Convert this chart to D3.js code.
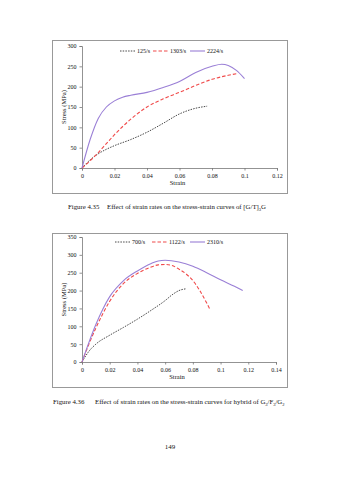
<!DOCTYPE html>
<html><head><meta charset="utf-8">
<script src="https://cdn.jsdelivr.net/npm/d3@7"></script>
<style>body{margin:0;background:#fff}svg{display:block}text{font-family:"Liberation Serif","Times New Roman",serif;fill:#111}</style>
</head><body>
<script>
// Figure 4.35 data
const xTicks1 = [0, 0.02, 0.04, 0.06, 0.08, 0.1, 0.12];
const xTickLabels1 = ["0", "0.02", "0.04", "0.06", "0.08", "0.1", "0.12"];
const yTicks1 = [0, 50, 100, 150, 200, 250, 300];
const series1Names = ["125/s", "1303/s", "2224/s"];
const s125 = [[0,0],[0.005,20],[0.01,35],[0.015,46],[0.02,55],[0.03,70],[0.04,88],[0.05,110],[0.06,133],[0.07,147],[0.077,152]];
const s1303 = [[0,0],[0.005,18],[0.01,38],[0.015,60],[0.02,82],[0.03,120],[0.04,150],[0.05,170],[0.06,186],[0.07,203],[0.08,218],[0.09,228],[0.095,232]];
const s2224 = [[0,0],[0.005,70],[0.01,122],[0.015,150],[0.02,165],[0.025,174],[0.03,179],[0.04,186],[0.05,198],[0.06,213],[0.07,235],[0.08,250],[0.086,255],[0.09,252],[0.095,240],[0.1,220]];
// Figure 4.36 data
const xTicks2 = [0, 0.02, 0.04, 0.06, 0.08, 0.1, 0.12, 0.14];
const xTickLabels2 = ["0", "0.02", "0.04", "0.06", "0.08", "0.1", "0.12", "0.14"];
const yTicks2 = [0, 50, 100, 150, 200, 250, 300, 350];
const series2Names = ["700/s", "1122/s", "2310/s"];
const s700 = [[0,0],[0.005,30],[0.01,50],[0.02,75],[0.03,97],[0.04,120],[0.05,145],[0.06,172],[0.065,188],[0.07,200],[0.075,205]];
const s1122 = [[0,0],[0.005,50],[0.01,95],[0.015,135],[0.02,170],[0.03,220],[0.04,248],[0.05,266],[0.055,272],[0.06,273],[0.065,270],[0.07,260],[0.075,247],[0.08,228],[0.085,200],[0.09,165],[0.092,150]];
const s2310 = [[0,0],[0.005,55],[0.01,105],[0.015,148],[0.02,183],[0.03,228],[0.04,255],[0.05,276],[0.055,283],[0.06,285],[0.07,280],[0.08,268],[0.09,250],[0.1,230],[0.11,212],[0.116,200]];

const styles = [
  {color:"#333", dash:"1.5,1.2", w:0.9},
  {color:"#f04a4a", dash:"3.5,2", w:1.1},
  {color:"#9a7fd6", dash:null, w:1.1}
];

const svg = d3.select("body").append("svg").attr("width",339).attr("height",480);

function chart(cfg){
  const g = svg.append("g");
  g.append("rect").attr("x",cfg.frame[0]+0.5).attr("y",cfg.frame[1]+0.5)
    .attr("width",cfg.frame[2]).attr("height",cfg.frame[3])
    .attr("fill","#fff").attr("stroke","#999").attr("stroke-width",1);
  const x = d3.scaleLinear().domain(cfg.xDom).range(cfg.xRange);
  const y = d3.scaleLinear().domain(cfg.yDom).range(cfg.yRange);
  const xa = g.append("g").attr("transform",`translate(0,${cfg.yRange[0]})`)
    .call(d3.axisBottom(x).tickValues(cfg.xTicks).tickFormat((d,i)=>cfg.xLabels[i]).tickSize(2.5).tickPadding(3));
  const ya = g.append("g").attr("transform",`translate(${cfg.xRange[0]},0)`)
    .call(d3.axisLeft(y).tickValues(cfg.yTicks).tickSize(2.5).tickPadding(3));
  [xa,ya].forEach(a=>{
    a.selectAll("path,line").attr("stroke","#777").attr("stroke-width",0.8);
    a.selectAll("text").attr("font-size",6).attr("font-family","Liberation Serif").attr("fill","#222");
  });
  g.append("text").attr("x",(cfg.xRange[0]+cfg.xRange[1])/2-2).attr("y",cfg.yRange[0]+17)
    .attr("text-anchor","middle").attr("font-size",6.5).text("Strain");
  g.append("text").attr("transform",`translate(${cfg.xRange[0]-16},${(cfg.yRange[0]+cfg.yRange[1])/2}) rotate(-90)`)
    .attr("text-anchor","middle").attr("font-size",6.5).text("Stress (MPa)");
  const line = d3.line().x(d=>x(d[0])).y(d=>y(d[1])).curve(d3.curveMonotoneX);
  cfg.series.forEach((s,i)=>{
    const st = styles[i];
    g.append("path").datum(s).attr("d",line).attr("fill","none")
      .attr("stroke",st.color).attr("stroke-width",st.w).attr("stroke-dasharray",st.dash);
  });
  // legend
  cfg.names.forEach((n,i)=>{
    const lx = cfg.legX[i], ly = cfg.legY, st = styles[i];
    g.append("line").attr("x1",lx).attr("x2",lx+15).attr("y1",ly).attr("y2",ly)
      .attr("stroke",st.color).attr("stroke-width",st.w).attr("stroke-dasharray",st.dash);
    g.append("text").attr("x",lx+17).attr("y",ly+2).attr("font-size",6).attr("fill","#333").text(n);
  });
}

chart({frame:[52,40,235,153], xDom:[0,0.12], xRange:[82,277], yDom:[0,300], yRange:[168,46],
  xTicks:xTicks1, xLabels:xTickLabels1, yTicks:yTicks1, series:[s125,s1303,s2224], names:series1Names,
  legX:[120,153,190], legY:51});
chart({frame:[52,233,235,154], xDom:[0,0.14], xRange:[82,276], yDom:[0,350], yRange:[362,237],
  xTicks:xTicks2, xLabels:xTickLabels2, yTicks:yTicks2, series:[s700,s1122,s2310], names:series2Names,
  legX:[115,152,190], legY:242});

// captions
const cap1 = svg.append("text").attr("x",68).attr("y",209).attr("font-size",6.8);
cap1.append("tspan").text("Figure 4.35");
cap1.append("tspan").attr("x",107).text("Effect of strain rates on the stress-strain curves of  [G/T]");
cap1.append("tspan").attr("font-size",4.5).attr("dy",1.5).text("3");
cap1.append("tspan").attr("dy",-1.5).text("G");

const cap2 = svg.append("text").attr("x",53).attr("y",404).attr("font-size",6.8);
cap2.append("tspan").text("Figure 4.36");
cap2.append("tspan").attr("x",95).text("Effect of strain rates on the stress-strain curves for hybrid of  G");
cap2.append("tspan").attr("font-size",4.5).attr("dy",1.5).text("3");
cap2.append("tspan").attr("dy",-1.5).text("/F");
cap2.append("tspan").attr("font-size",4.5).attr("dy",1.5).text("3");
cap2.append("tspan").attr("dy",-1.5).text("/G");
cap2.append("tspan").attr("font-size",4.5).attr("dy",1.5).text("2");

svg.append("text").attr("x",170).attr("y",449).attr("text-anchor","middle").attr("font-size",7).text("149");
</script>
</body></html>
